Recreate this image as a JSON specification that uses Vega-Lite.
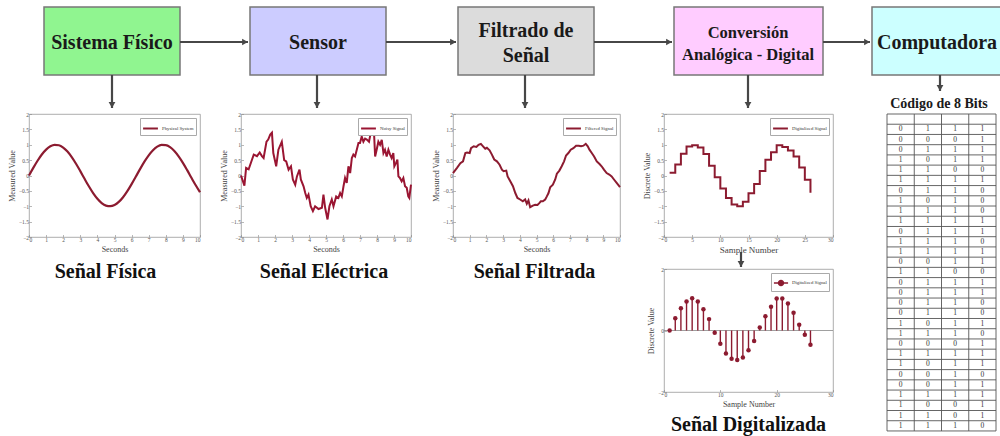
{
  "$schema": "https://vega.github.io/schema/vega-lite/v6.json",
  "background": "white",
  "padding": 0,
  "config": {
    "font": "Liberation Serif",
    "view": {"stroke": null},
    "axis": {"domain": false, "grid": false, "ticks": true, "tickSize": -2.5, "tickColor": "#888", "tickWidth": 0.6, "labelFontSize": 5.5, "labelColor": "#555", "labelPadding": 3, "titleFontSize": 8, "titleFontWeight": "normal", "titleColor": "#444", "titlePadding": 2, "labelFont": "Liberation Serif", "titleFont": "Liberation Serif"},
    "legend": {"orient": "top-right", "offset": 4, "padding": 2, "strokeColor": "#aaa", "fillColor": "white", "labelFontSize": 4.8, "labelColor": "#333", "labelFont": "Liberation Serif", "symbolType": "stroke", "symbolSize": 220, "symbolStrokeWidth": 2, "labelOffset": 3, "rowPadding": 0, "titlePadding": 0},
    "title": {"font": "Liberation Serif", "fontSize": 20, "fontWeight": "bold", "color": "#111", "orient": "bottom", "offset": 9, "frame": "group", "anchor": "middle"},
    "text": {"font": "Liberation Serif", "fontWeight": "bold", "color": "#1a1a1a", "baseline": "middle"}
  },
  "resolve": {"scale": {"color": "independent"}, "legend": {"color": "independent"}},
  "datasets": {
    "boxes": [
      {"stage": "Sistema Físico", "x": 44, "x2": 180},
      {"stage": "Sensor", "x": 250, "x2": 386},
      {"stage": "Filtrado", "x": 458, "x2": 594},
      {"stage": "Conversión", "x": 674, "x2": 823},
      {"stage": "Computadora", "x": 872, "x2": 1012}
    ],
    "labels": [
      {"text": "Sistema Físico", "x": 112, "y": 43, "k": "a"},
      {"text": "Sensor", "x": 318, "y": 43, "k": "a"},
      {"text": "Filtrado de", "x": 526, "y": 31, "k": "a"},
      {"text": "Señal", "x": 526, "y": 56, "k": "a"},
      {"text": "Conversión", "x": 748, "y": 33, "k": "b"},
      {"text": "Analógica - Digital", "x": 748, "y": 55, "k": "b"},
      {"text": "Computadora", "x": 937, "y": 43, "k": "a"},
      {"text": "Código de 8 Bits", "x": 939, "y": 104, "k": "d"}
    ],
    "harrows": [
      {"x": 180, "x2": 248, "y": 42},
      {"x": 386, "x2": 456, "y": 42},
      {"x": 594, "x2": 672, "y": 42},
      {"x": 823, "x2": 870, "y": 42}
    ],
    "varrows": [
      {"x": 112, "y": 75, "y2": 108},
      {"x": 317, "y": 75, "y2": 108},
      {"x": 525, "y": 75, "y2": 108},
      {"x": 748, "y": 75, "y2": 108},
      {"x": 940, "y": 75, "y2": 91},
      {"x": 741, "y": 252, "y2": 267}
    ],
    "d1": [
      {"t": 0, "v": 0}, {"t": 0.25, "v": 0.247}, {"t": 0.5, "v": 0.479}, {"t": 0.75, "v": 0.682}, {"t": 1, "v": 0.841},
      {"t": 1.25, "v": 0.949}, {"t": 1.5, "v": 0.997}, {"t": 1.75, "v": 0.984}, {"t": 2, "v": 0.909}, {"t": 2.25, "v": 0.778},
      {"t": 2.5, "v": 0.598}, {"t": 2.75, "v": 0.382}, {"t": 3, "v": 0.141}, {"t": 3.25, "v": -0.108}, {"t": 3.5, "v": -0.351},
      {"t": 3.75, "v": -0.572}, {"t": 4, "v": -0.757}, {"t": 4.25, "v": -0.895}, {"t": 4.5, "v": -0.978}, {"t": 4.75, "v": -0.999},
      {"t": 5, "v": -0.959}, {"t": 5.25, "v": -0.859}, {"t": 5.5, "v": -0.706}, {"t": 5.75, "v": -0.508}, {"t": 6, "v": -0.279},
      {"t": 6.25, "v": -0.033}, {"t": 6.5, "v": 0.215}, {"t": 6.75, "v": 0.451}, {"t": 7, "v": 0.657}, {"t": 7.25, "v": 0.823},
      {"t": 7.5, "v": 0.938}, {"t": 7.75, "v": 0.994}, {"t": 8, "v": 0.989}, {"t": 8.25, "v": 0.923}, {"t": 8.5, "v": 0.798},
      {"t": 8.75, "v": 0.624}, {"t": 9, "v": 0.412}, {"t": 9.25, "v": 0.174}, {"t": 9.5, "v": -0.075}, {"t": 9.75, "v": -0.319},
      {"t": 10, "v": -0.544}
    ],
    "d2": [
      {"t": 0, "v": 0}, {"t": 0.2, "v": -0.33}, {"t": 0.3, "v": 0.25}, {"t": 0.45, "v": 0.2}, {"t": 0.65, "v": 0.52},
      {"t": 0.75, "v": 0.68}, {"t": 0.94, "v": 0.63}, {"t": 1.1, "v": 0.75}, {"t": 1.23, "v": 0.63}, {"t": 1.33, "v": 0.57},
      {"t": 1.5, "v": 1.1}, {"t": 1.6, "v": 1.17}, {"t": 1.72, "v": 1.33}, {"t": 1.82, "v": 1.39}, {"t": 1.9, "v": 0.73},
      {"t": 2.07, "v": 0.3}, {"t": 2.2, "v": 0.84}, {"t": 2.4, "v": 1.1}, {"t": 2.54, "v": 0.5}, {"t": 2.66, "v": 0.46},
      {"t": 2.8, "v": 0.19}, {"t": 2.94, "v": 0.3}, {"t": 3.05, "v": -0.13}, {"t": 3.19, "v": -0.3}, {"t": 3.29, "v": -0.03},
      {"t": 3.44, "v": 0.19}, {"t": 3.52, "v": -0.13}, {"t": 3.68, "v": -0.35}, {"t": 3.78, "v": -0.57}, {"t": 3.87, "v": -0.73},
      {"t": 3.97, "v": -0.62}, {"t": 4.1, "v": -1.0}, {"t": 4.23, "v": -1.16}, {"t": 4.36, "v": -1.0}, {"t": 4.56, "v": -1.09},
      {"t": 4.76, "v": -1.05}, {"t": 4.85, "v": -0.62}, {"t": 4.95, "v": -1.05}, {"t": 5.09, "v": -1.43}, {"t": 5.2, "v": -1.0},
      {"t": 5.34, "v": -0.78}, {"t": 5.44, "v": -1.0}, {"t": 5.6, "v": -0.68}, {"t": 5.73, "v": -0.73}, {"t": 5.83, "v": -0.57},
      {"t": 5.93, "v": -0.68}, {"t": 6.03, "v": -0.35}, {"t": 6.12, "v": -0.08}, {"t": 6.22, "v": -0.24}, {"t": 6.32, "v": 0.3},
      {"t": 6.42, "v": 0.08}, {"t": 6.52, "v": 0.57}, {"t": 6.61, "v": 0.68}, {"t": 6.71, "v": 0.62}, {"t": 6.81, "v": 0.84},
      {"t": 6.91, "v": 1.06}, {"t": 7.0, "v": 1.06}, {"t": 7.1, "v": 1.27}, {"t": 7.2, "v": 1.1}, {"t": 7.3, "v": 1.2},
      {"t": 7.4, "v": 1.17}, {"t": 7.53, "v": 1.1}, {"t": 7.63, "v": 1.39}, {"t": 7.75, "v": 1.45}, {"t": 7.83, "v": 1.33},
      {"t": 7.89, "v": 0.62}, {"t": 7.98, "v": 0.84}, {"t": 8.08, "v": 1.1}, {"t": 8.18, "v": 1.0}, {"t": 8.28, "v": 1.16},
      {"t": 8.38, "v": 0.73}, {"t": 8.47, "v": 0.84}, {"t": 8.57, "v": 0.62}, {"t": 8.67, "v": 0.84}, {"t": 8.77, "v": 0.68},
      {"t": 8.86, "v": 0.57}, {"t": 8.96, "v": 0.73}, {"t": 9.02, "v": 0.3}, {"t": 9.12, "v": 0.41}, {"t": 9.2, "v": 0.52},
      {"t": 9.26, "v": -0.03}, {"t": 9.35, "v": -0.08}, {"t": 9.45, "v": -0.19}, {"t": 9.55, "v": -0.08}, {"t": 9.65, "v": -0.35},
      {"t": 9.75, "v": -0.4}, {"t": 9.84, "v": -0.68}, {"t": 9.9, "v": -0.73}, {"t": 10, "v": -0.3}
    ],
    "d3": [
      {"t": 0, "v": 0.08}, {"t": 0.24, "v": 0.25}, {"t": 0.44, "v": 0.4}, {"t": 0.6, "v": 0.46}, {"t": 0.74, "v": 0.73},
      {"t": 0.84, "v": 0.75}, {"t": 1.0, "v": 0.73}, {"t": 1.08, "v": 0.89}, {"t": 1.24, "v": 0.95}, {"t": 1.4, "v": 0.93},
      {"t": 1.53, "v": 1.0}, {"t": 1.67, "v": 1.03}, {"t": 1.8, "v": 0.95}, {"t": 1.93, "v": 0.87}, {"t": 2.03, "v": 0.9},
      {"t": 2.19, "v": 0.82}, {"t": 2.33, "v": 0.68}, {"t": 2.47, "v": 0.52}, {"t": 2.63, "v": 0.46}, {"t": 2.79, "v": 0.35},
      {"t": 2.93, "v": 0.19}, {"t": 3.03, "v": 0.14}, {"t": 3.19, "v": 0.16}, {"t": 3.27, "v": -0.03}, {"t": 3.43, "v": -0.19},
      {"t": 3.59, "v": -0.35}, {"t": 3.73, "v": -0.57}, {"t": 3.86, "v": -0.73}, {"t": 4.02, "v": -0.78}, {"t": 4.18, "v": -0.84},
      {"t": 4.32, "v": -0.78}, {"t": 4.42, "v": -0.92}, {"t": 4.52, "v": -0.81}, {"t": 4.62, "v": -1.03}, {"t": 4.78, "v": -0.98},
      {"t": 4.92, "v": -0.95}, {"t": 5.06, "v": -0.96}, {"t": 5.18, "v": -0.89}, {"t": 5.26, "v": -0.84}, {"t": 5.38, "v": -0.84},
      {"t": 5.52, "v": -0.78}, {"t": 5.62, "v": -0.68}, {"t": 5.72, "v": -0.57}, {"t": 5.82, "v": -0.38}, {"t": 5.98, "v": -0.3},
      {"t": 6.12, "v": -0.13}, {"t": 6.22, "v": 0.06}, {"t": 6.37, "v": 0.16}, {"t": 6.51, "v": 0.3}, {"t": 6.65, "v": 0.46},
      {"t": 6.77, "v": 0.65}, {"t": 6.91, "v": 0.73}, {"t": 7.05, "v": 0.84}, {"t": 7.21, "v": 0.89}, {"t": 7.37, "v": 0.97},
      {"t": 7.53, "v": 0.97}, {"t": 7.67, "v": 0.95}, {"t": 7.81, "v": 0.97}, {"t": 7.95, "v": 1.03}, {"t": 8.07, "v": 0.95},
      {"t": 8.17, "v": 0.84}, {"t": 8.31, "v": 0.73}, {"t": 8.45, "v": 0.62}, {"t": 8.61, "v": 0.46}, {"t": 8.76, "v": 0.38},
      {"t": 8.9, "v": 0.3}, {"t": 9.04, "v": 0.19}, {"t": 9.2, "v": 0.08}, {"t": 9.36, "v": 0.03}, {"t": 9.5, "v": -0.03},
      {"t": 9.64, "v": -0.13}, {"t": 9.8, "v": -0.24}, {"t": 10, "v": -0.38}
    ],
    "d4": [
      {"n": 1, "v": 0.09}, {"n": 2, "v": 0.36}, {"n": 3, "v": 0.71}, {"n": 4, "v": 0.94}, {"n": 5, "v": 0.98},
      {"n": 6, "v": 0.91}, {"n": 7, "v": 0.7}, {"n": 8, "v": 0.32}, {"n": 9, "v": -0.06}, {"n": 10, "v": -0.42},
      {"n": 11, "v": -0.73}, {"n": 12, "v": -0.94}, {"n": 13, "v": -1.0}, {"n": 14, "v": -0.85}, {"n": 15, "v": -0.58},
      {"n": 16, "v": -0.28}, {"n": 17, "v": 0.15}, {"n": 18, "v": 0.51}, {"n": 19, "v": 0.76}, {"n": 20, "v": 0.98},
      {"n": 21, "v": 0.93}, {"n": 22, "v": 0.81}, {"n": 23, "v": 0.62}, {"n": 24, "v": 0.26}, {"n": 25, "v": -0.14},
      {"n": 26, "v": -0.56}
    ],
    "d5": [
      {"n": 1, "v": 0.0}, {"n": 2, "v": 0.4}, {"n": 3, "v": 0.72}, {"n": 4, "v": 0.94}, {"n": 5, "v": 1.05},
      {"n": 6, "v": 0.94}, {"n": 7, "v": 0.69}, {"n": 8, "v": 0.37}, {"n": 9, "v": -0.07}, {"n": 10, "v": -0.43},
      {"n": 11, "v": -0.75}, {"n": 12, "v": -0.92}, {"n": 13, "v": -0.96}, {"n": 14, "v": -0.88}, {"n": 15, "v": -0.64},
      {"n": 16, "v": -0.34}, {"n": 17, "v": 0.1}, {"n": 18, "v": 0.46}, {"n": 19, "v": 0.77}, {"n": 20, "v": 1.04},
      {"n": 21, "v": 1.04}, {"n": 22, "v": 0.88}, {"n": 23, "v": 0.58}, {"n": 24, "v": 0.19}, {"n": 25, "v": -0.14},
      {"n": 26, "v": -0.46}
    ],
    "hl": [
      {"r": -0.5}, {"r": 0.5}, {"r": 1.5}, {"r": 2.5}, {"r": 3.5}, {"r": 4.5}, {"r": 5.5}, {"r": 6.5}, {"r": 7.5}, {"r": 8.5},
      {"r": 9.5}, {"r": 10.5}, {"r": 11.5}, {"r": 12.5}, {"r": 13.5}, {"r": 14.5}, {"r": 15.5}, {"r": 16.5}, {"r": 17.5}, {"r": 18.5},
      {"r": 19.5}, {"r": 20.5}, {"r": 21.5}, {"r": 22.5}, {"r": 23.5}, {"r": 24.5}, {"r": 25.5}, {"r": 26.5}, {"r": 27.5}, {"r": 28.5},
      {"r": 29.5}, {"r": 30.5}
    ],
    "vl": [{"c": 0}, {"c": 1}, {"c": 2}, {"c": 3}, {"c": 4}],
    "bits": [
      {"r": 1, "b1": 0, "b2": 1, "b3": 1, "b4": 1},
      {"r": 2, "b1": 0, "b2": 0, "b3": 0, "b4": 1},
      {"r": 3, "b1": 0, "b2": 1, "b3": 1, "b4": 1},
      {"r": 4, "b1": 1, "b2": 0, "b3": 1, "b4": 1},
      {"r": 5, "b1": 1, "b2": 1, "b3": 0, "b4": 0},
      {"r": 6, "b1": 1, "b2": 1, "b3": 1, "b4": 1},
      {"r": 7, "b1": 0, "b2": 1, "b3": 1, "b4": 0},
      {"r": 8, "b1": 1, "b2": 0, "b3": 1, "b4": 0},
      {"r": 9, "b1": 1, "b2": 1, "b3": 1, "b4": 0},
      {"r": 10, "b1": 1, "b2": 1, "b3": 1, "b4": 1},
      {"r": 11, "b1": 0, "b2": 1, "b3": 1, "b4": 1},
      {"r": 12, "b1": 1, "b2": 1, "b3": 1, "b4": 0},
      {"r": 13, "b1": 1, "b2": 1, "b3": 1, "b4": 1},
      {"r": 14, "b1": 0, "b2": 0, "b3": 1, "b4": 1},
      {"r": 15, "b1": 1, "b2": 1, "b3": 0, "b4": 0},
      {"r": 16, "b1": 0, "b2": 1, "b3": 1, "b4": 1},
      {"r": 17, "b1": 0, "b2": 1, "b3": 1, "b4": 1},
      {"r": 18, "b1": 0, "b2": 1, "b3": 1, "b4": 0},
      {"r": 19, "b1": 0, "b2": 1, "b3": 1, "b4": 0},
      {"r": 20, "b1": 1, "b2": 0, "b3": 1, "b4": 1},
      {"r": 21, "b1": 1, "b2": 1, "b3": 1, "b4": 0},
      {"r": 22, "b1": 0, "b2": 0, "b3": 0, "b4": 1},
      {"r": 23, "b1": 1, "b2": 1, "b3": 1, "b4": 1},
      {"r": 24, "b1": 1, "b2": 0, "b3": 1, "b4": 1},
      {"r": 25, "b1": 0, "b2": 0, "b3": 1, "b4": 0},
      {"r": 26, "b1": 0, "b2": 0, "b3": 1, "b4": 1},
      {"r": 27, "b1": 1, "b2": 1, "b3": 1, "b4": 1},
      {"r": 28, "b1": 1, "b2": 0, "b3": 0, "b4": 1},
      {"r": 29, "b1": 1, "b2": 1, "b3": 0, "b4": 1},
      {"r": 30, "b1": 1, "b2": 1, "b3": 1, "b4": 0}
    ]
  },
  "columns": 6,
  "spacing": 0,
  "bounds": "flush",
  "concat": [
    {"width": 29, "height": 114, "data": {"values": []}, "mark": "point"},
    {
      "width": 212, "height": 114,
      "layer": [
        {"data": {"name": "boxes"}, "mark": {"type": "rect", "stroke": "#777", "strokeWidth": 1.5, "clip": true},
         "encoding": {"x": {"field": "x", "type": "quantitative", "scale": {"domain": [29, 241], "nice": false, "zero": false}, "axis": null}, "x2": {"field": "x2"},
           "y": {"datum": 7, "type": "quantitative", "scale": {"domain": [0, 114], "reverse": true, "nice": false, "zero": false}, "axis": null}, "y2": {"datum": 75},
           "fill": {"field": "stage", "type": "nominal", "scale": {"domain": ["Sistema Físico", "Sensor", "Filtrado", "Conversión", "Computadora"], "range": ["#90f590", "#ccccff", "#dcdcdc", "#ffccff", "#ccffff"]}, "legend": null}}},
        {"data": {"name": "harrows"}, "mark": {"type": "rule", "color": "#474747", "strokeWidth": 2.2, "clip": true},
         "encoding": {"x": {"field": "x", "type": "quantitative"}, "x2": {"field": "x2"}, "y": {"field": "y", "type": "quantitative"}}},
        {"data": {"name": "harrows"}, "mark": {"type": "point", "shape": "triangle-right", "filled": true, "color": "#474747", "opacity": 1, "size": 45, "xOffset": -3, "clip": true},
         "encoding": {"x": {"field": "x2", "type": "quantitative"}, "y": {"field": "y", "type": "quantitative"}}},
        {"data": {"name": "varrows"}, "mark": {"type": "rule", "color": "#474747", "strokeWidth": 2.2, "clip": true},
         "encoding": {"x": {"field": "x", "type": "quantitative"}, "y": {"field": "y", "type": "quantitative"}, "y2": {"field": "y2"}}},
        {"data": {"name": "varrows"}, "mark": {"type": "point", "shape": "triangle-down", "filled": true, "color": "#474747", "opacity": 1, "size": 45, "yOffset": -3, "clip": true},
         "encoding": {"x": {"field": "x", "type": "quantitative"}, "y": {"field": "y2", "type": "quantitative"}}},
        {"data": {"name": "labels"}, "transform": [{"filter": "datum.k == 'a'"}], "mark": {"type": "text", "fontSize": 20, "clip": true},
         "encoding": {"x": {"field": "x", "type": "quantitative"}, "y": {"field": "y", "type": "quantitative"}, "text": {"field": "text"}}},
        {"data": {"name": "labels"}, "transform": [{"filter": "datum.k == 'b'"}], "mark": {"type": "text", "fontSize": 16.5, "clip": true},
         "encoding": {"x": {"field": "x", "type": "quantitative"}, "y": {"field": "y", "type": "quantitative"}, "text": {"field": "text"}}},
        {"data": {"name": "labels"}, "transform": [{"filter": "datum.k == 'd'"}], "mark": {"type": "text", "fontSize": 14, "clip": true},
         "encoding": {"x": {"field": "x", "type": "quantitative"}, "y": {"field": "y", "type": "quantitative"}, "text": {"field": "text"}}}
      ]
    },
    {
      "width": 212, "height": 114,
      "layer": [
        {"data": {"name": "boxes"}, "mark": {"type": "rect", "stroke": "#777", "strokeWidth": 1.5, "clip": true},
         "encoding": {"x": {"field": "x", "type": "quantitative", "scale": {"domain": [241, 453], "nice": false, "zero": false}, "axis": null}, "x2": {"field": "x2"},
           "y": {"datum": 7, "type": "quantitative", "scale": {"domain": [0, 114], "reverse": true, "nice": false, "zero": false}, "axis": null}, "y2": {"datum": 75},
           "fill": {"field": "stage", "type": "nominal", "scale": {"domain": ["Sistema Físico", "Sensor", "Filtrado", "Conversión", "Computadora"], "range": ["#90f590", "#ccccff", "#dcdcdc", "#ffccff", "#ccffff"]}, "legend": null}}},
        {"data": {"name": "harrows"}, "mark": {"type": "rule", "color": "#474747", "strokeWidth": 2.2, "clip": true},
         "encoding": {"x": {"field": "x", "type": "quantitative"}, "x2": {"field": "x2"}, "y": {"field": "y", "type": "quantitative"}}},
        {"data": {"name": "harrows"}, "mark": {"type": "point", "shape": "triangle-right", "filled": true, "color": "#474747", "opacity": 1, "size": 45, "xOffset": -3, "clip": true},
         "encoding": {"x": {"field": "x2", "type": "quantitative"}, "y": {"field": "y", "type": "quantitative"}}},
        {"data": {"name": "varrows"}, "mark": {"type": "rule", "color": "#474747", "strokeWidth": 2.2, "clip": true},
         "encoding": {"x": {"field": "x", "type": "quantitative"}, "y": {"field": "y", "type": "quantitative"}, "y2": {"field": "y2"}}},
        {"data": {"name": "varrows"}, "mark": {"type": "point", "shape": "triangle-down", "filled": true, "color": "#474747", "opacity": 1, "size": 45, "yOffset": -3, "clip": true},
         "encoding": {"x": {"field": "x", "type": "quantitative"}, "y": {"field": "y2", "type": "quantitative"}}},
        {"data": {"name": "labels"}, "transform": [{"filter": "datum.k == 'a'"}], "mark": {"type": "text", "fontSize": 20, "clip": true},
         "encoding": {"x": {"field": "x", "type": "quantitative"}, "y": {"field": "y", "type": "quantitative"}, "text": {"field": "text"}}},
        {"data": {"name": "labels"}, "transform": [{"filter": "datum.k == 'b'"}], "mark": {"type": "text", "fontSize": 16.5, "clip": true},
         "encoding": {"x": {"field": "x", "type": "quantitative"}, "y": {"field": "y", "type": "quantitative"}, "text": {"field": "text"}}},
        {"data": {"name": "labels"}, "transform": [{"filter": "datum.k == 'd'"}], "mark": {"type": "text", "fontSize": 14, "clip": true},
         "encoding": {"x": {"field": "x", "type": "quantitative"}, "y": {"field": "y", "type": "quantitative"}, "text": {"field": "text"}}}
      ]
    },
    {
      "width": 211, "height": 114,
      "layer": [
        {"data": {"name": "boxes"}, "mark": {"type": "rect", "stroke": "#777", "strokeWidth": 1.5, "clip": true},
         "encoding": {"x": {"field": "x", "type": "quantitative", "scale": {"domain": [453, 664], "nice": false, "zero": false}, "axis": null}, "x2": {"field": "x2"},
           "y": {"datum": 7, "type": "quantitative", "scale": {"domain": [0, 114], "reverse": true, "nice": false, "zero": false}, "axis": null}, "y2": {"datum": 75},
           "fill": {"field": "stage", "type": "nominal", "scale": {"domain": ["Sistema Físico", "Sensor", "Filtrado", "Conversión", "Computadora"], "range": ["#90f590", "#ccccff", "#dcdcdc", "#ffccff", "#ccffff"]}, "legend": null}}},
        {"data": {"name": "harrows"}, "mark": {"type": "rule", "color": "#474747", "strokeWidth": 2.2, "clip": true},
         "encoding": {"x": {"field": "x", "type": "quantitative"}, "x2": {"field": "x2"}, "y": {"field": "y", "type": "quantitative"}}},
        {"data": {"name": "harrows"}, "mark": {"type": "point", "shape": "triangle-right", "filled": true, "color": "#474747", "opacity": 1, "size": 45, "xOffset": -3, "clip": true},
         "encoding": {"x": {"field": "x2", "type": "quantitative"}, "y": {"field": "y", "type": "quantitative"}}},
        {"data": {"name": "varrows"}, "mark": {"type": "rule", "color": "#474747", "strokeWidth": 2.2, "clip": true},
         "encoding": {"x": {"field": "x", "type": "quantitative"}, "y": {"field": "y", "type": "quantitative"}, "y2": {"field": "y2"}}},
        {"data": {"name": "varrows"}, "mark": {"type": "point", "shape": "triangle-down", "filled": true, "color": "#474747", "opacity": 1, "size": 45, "yOffset": -3, "clip": true},
         "encoding": {"x": {"field": "x", "type": "quantitative"}, "y": {"field": "y2", "type": "quantitative"}}},
        {"data": {"name": "labels"}, "transform": [{"filter": "datum.k == 'a'"}], "mark": {"type": "text", "fontSize": 20, "clip": true},
         "encoding": {"x": {"field": "x", "type": "quantitative"}, "y": {"field": "y", "type": "quantitative"}, "text": {"field": "text"}}},
        {"data": {"name": "labels"}, "transform": [{"filter": "datum.k == 'b'"}], "mark": {"type": "text", "fontSize": 16.5, "clip": true},
         "encoding": {"x": {"field": "x", "type": "quantitative"}, "y": {"field": "y", "type": "quantitative"}, "text": {"field": "text"}}},
        {"data": {"name": "labels"}, "transform": [{"filter": "datum.k == 'd'"}], "mark": {"type": "text", "fontSize": 14, "clip": true},
         "encoding": {"x": {"field": "x", "type": "quantitative"}, "y": {"field": "y", "type": "quantitative"}, "text": {"field": "text"}}}
      ]
    },
    {
      "width": 223, "height": 114,
      "layer": [
        {"data": {"name": "boxes"}, "mark": {"type": "rect", "stroke": "#777", "strokeWidth": 1.5, "clip": true},
         "encoding": {"x": {"field": "x", "type": "quantitative", "scale": {"domain": [664, 887], "nice": false, "zero": false}, "axis": null}, "x2": {"field": "x2"},
           "y": {"datum": 7, "type": "quantitative", "scale": {"domain": [0, 114], "reverse": true, "nice": false, "zero": false}, "axis": null}, "y2": {"datum": 75},
           "fill": {"field": "stage", "type": "nominal", "scale": {"domain": ["Sistema Físico", "Sensor", "Filtrado", "Conversión", "Computadora"], "range": ["#90f590", "#ccccff", "#dcdcdc", "#ffccff", "#ccffff"]}, "legend": null}}},
        {"data": {"name": "harrows"}, "mark": {"type": "rule", "color": "#474747", "strokeWidth": 2.2, "clip": true},
         "encoding": {"x": {"field": "x", "type": "quantitative"}, "x2": {"field": "x2"}, "y": {"field": "y", "type": "quantitative"}}},
        {"data": {"name": "harrows"}, "mark": {"type": "point", "shape": "triangle-right", "filled": true, "color": "#474747", "opacity": 1, "size": 45, "xOffset": -3, "clip": true},
         "encoding": {"x": {"field": "x2", "type": "quantitative"}, "y": {"field": "y", "type": "quantitative"}}},
        {"data": {"name": "varrows"}, "mark": {"type": "rule", "color": "#474747", "strokeWidth": 2.2, "clip": true},
         "encoding": {"x": {"field": "x", "type": "quantitative"}, "y": {"field": "y", "type": "quantitative"}, "y2": {"field": "y2"}}},
        {"data": {"name": "varrows"}, "mark": {"type": "point", "shape": "triangle-down", "filled": true, "color": "#474747", "opacity": 1, "size": 45, "yOffset": -3, "clip": true},
         "encoding": {"x": {"field": "x", "type": "quantitative"}, "y": {"field": "y2", "type": "quantitative"}}},
        {"data": {"name": "labels"}, "transform": [{"filter": "datum.k == 'a'"}], "mark": {"type": "text", "fontSize": 20, "clip": true},
         "encoding": {"x": {"field": "x", "type": "quantitative"}, "y": {"field": "y", "type": "quantitative"}, "text": {"field": "text"}}},
        {"data": {"name": "labels"}, "transform": [{"filter": "datum.k == 'b'"}], "mark": {"type": "text", "fontSize": 16.5, "clip": true},
         "encoding": {"x": {"field": "x", "type": "quantitative"}, "y": {"field": "y", "type": "quantitative"}, "text": {"field": "text"}}},
        {"data": {"name": "labels"}, "transform": [{"filter": "datum.k == 'd'"}], "mark": {"type": "text", "fontSize": 14, "clip": true},
         "encoding": {"x": {"field": "x", "type": "quantitative"}, "y": {"field": "y", "type": "quantitative"}, "text": {"field": "text"}}}
      ]
    },
    {
      "width": 113, "height": 114,
      "layer": [
        {"data": {"name": "boxes"}, "mark": {"type": "rect", "stroke": "#777", "strokeWidth": 1.5, "clip": true},
         "encoding": {"x": {"field": "x", "type": "quantitative", "scale": {"domain": [887, 1000], "nice": false, "zero": false}, "axis": null}, "x2": {"field": "x2"},
           "y": {"datum": 7, "type": "quantitative", "scale": {"domain": [0, 114], "reverse": true, "nice": false, "zero": false}, "axis": null}, "y2": {"datum": 75},
           "fill": {"field": "stage", "type": "nominal", "scale": {"domain": ["Sistema Físico", "Sensor", "Filtrado", "Conversión", "Computadora"], "range": ["#90f590", "#ccccff", "#dcdcdc", "#ffccff", "#ccffff"]}, "legend": null}}},
        {"data": {"name": "harrows"}, "mark": {"type": "rule", "color": "#474747", "strokeWidth": 2.2, "clip": true},
         "encoding": {"x": {"field": "x", "type": "quantitative"}, "x2": {"field": "x2"}, "y": {"field": "y", "type": "quantitative"}}},
        {"data": {"name": "harrows"}, "mark": {"type": "point", "shape": "triangle-right", "filled": true, "color": "#474747", "opacity": 1, "size": 45, "xOffset": -3, "clip": true},
         "encoding": {"x": {"field": "x2", "type": "quantitative"}, "y": {"field": "y", "type": "quantitative"}}},
        {"data": {"name": "varrows"}, "mark": {"type": "rule", "color": "#474747", "strokeWidth": 2.2, "clip": true},
         "encoding": {"x": {"field": "x", "type": "quantitative"}, "y": {"field": "y", "type": "quantitative"}, "y2": {"field": "y2"}}},
        {"data": {"name": "varrows"}, "mark": {"type": "point", "shape": "triangle-down", "filled": true, "color": "#474747", "opacity": 1, "size": 45, "yOffset": -3, "clip": true},
         "encoding": {"x": {"field": "x", "type": "quantitative"}, "y": {"field": "y2", "type": "quantitative"}}},
        {"data": {"name": "labels"}, "transform": [{"filter": "datum.k == 'a'"}], "mark": {"type": "text", "fontSize": 20, "clip": true},
         "encoding": {"x": {"field": "x", "type": "quantitative"}, "y": {"field": "y", "type": "quantitative"}, "text": {"field": "text"}}},
        {"data": {"name": "labels"}, "transform": [{"filter": "datum.k == 'b'"}], "mark": {"type": "text", "fontSize": 16.5, "clip": true},
         "encoding": {"x": {"field": "x", "type": "quantitative"}, "y": {"field": "y", "type": "quantitative"}, "text": {"field": "text"}}},
        {"data": {"name": "labels"}, "transform": [{"filter": "datum.k == 'd'"}], "mark": {"type": "text", "fontSize": 14, "clip": true},
         "encoding": {"x": {"field": "x", "type": "quantitative"}, "y": {"field": "y", "type": "quantitative"}, "text": {"field": "text"}}}
      ]
    },

    {"width": 1, "height": 1, "data": {"values": []}, "mark": "point"},
    {
      "width": 171, "height": 123,
      "view": {"stroke": "#999", "strokeWidth": 0.8},
      "data": {"name": "d1"},
      "title": {"text": "Señal Física", "dx": -9},
      "mark": {"type": "line", "strokeWidth": 2.2, "interpolate": "monotone"},
      "encoding": {
        "x": {"field": "t", "type": "quantitative", "scale": {"domain": [0, 10], "nice": false}, "axis": {"title": "Seconds", "values": [0, 1, 2, 3, 4, 5, 6, 7, 8, 9, 10]}},
        "y": {"field": "v", "type": "quantitative", "scale": {"domain": [-2, 2], "nice": false}, "axis": {"title": "Measured Value", "values": [-2, -1.5, -1, -0.5, 0, 0.5, 1, 1.5, 2], "format": "~g"}},
        "color": {"datum": "Physical System", "scale": {"range": ["#8c1b30"]}, "legend": {"title": null}}
      }
    },
    {
      "width": 170, "height": 123,
      "view": {"stroke": "#999", "strokeWidth": 0.8},
      "data": {"name": "d2"},
      "title": {"text": "Señal Eléctrica", "dx": -2},
      "mark": {"type": "line", "strokeWidth": 2, "interpolate": "linear"},
      "encoding": {
        "x": {"field": "t", "type": "quantitative", "scale": {"domain": [0, 10], "nice": false}, "axis": {"title": "Seconds", "values": [0, 1, 2, 3, 4, 5, 6, 7, 8, 9, 10]}},
        "y": {"field": "v", "type": "quantitative", "scale": {"domain": [-2, 2], "nice": false}, "axis": {"title": "Measured Value", "values": [-2, -1.5, -1, -0.5, 0, 0.5, 1, 1.5, 2], "format": "~g"}},
        "color": {"datum": "Noisy Signal", "scale": {"range": ["#9a1532"]}, "legend": {"title": null}}
      }
    },
    {
      "width": 167, "height": 123,
      "view": {"stroke": "#999", "strokeWidth": 0.8},
      "data": {"name": "d3"},
      "title": {"text": "Señal Filtrada", "dx": -2},
      "mark": {"type": "line", "strokeWidth": 2, "interpolate": "linear"},
      "encoding": {
        "x": {"field": "t", "type": "quantitative", "scale": {"domain": [0, 10], "nice": false}, "axis": {"title": "Seconds", "values": [0, 1, 2, 3, 4, 5, 6, 7, 8, 9, 10]}},
        "y": {"field": "v", "type": "quantitative", "scale": {"domain": [-2, 2], "nice": false}, "axis": {"title": "Measured Value", "values": [-2, -1.5, -1, -0.5, 0, 0.5, 1, 1.5, 2], "format": "~g"}},
        "color": {"datum": "Filtered Signal", "scale": {"range": ["#8c1b30"]}, "legend": {"title": null}}
      }
    },
    {
      "width": 169, "height": 123,
      "view": {"stroke": "#999", "strokeWidth": 0.8},
      "data": {"name": "d4"},
      "mark": {"type": "line", "strokeWidth": 2, "interpolate": "step-after"},
      "encoding": {
        "x": {"field": "n", "type": "quantitative", "scale": {"domain": [0, 30], "nice": false}, "axis": {"title": "Sample Number", "values": [0, 5, 10, 15, 20, 25, 30], "titleFontSize": 9}},
        "y": {"field": "v", "type": "quantitative", "scale": {"domain": [-2, 2], "nice": false}, "axis": {"title": "Discrete Value", "values": [-2, -1.5, -1, -0.5, 0, 0.5, 1, 1.5, 2], "format": "~g"}},
        "color": {"datum": "Digitalized Signal", "scale": {"range": ["#8c1b30"]}, "legend": {"title": null}}
      }
    },
    {
      "width": 109, "height": 123,
      "layer": [
        {"data": {"name": "hl"}, "mark": {"type": "rule", "color": "#555", "strokeWidth": 0.9},
         "encoding": {"x": {"datum": 0, "type": "quantitative", "scale": {"domain": [0, 4], "nice": false, "zero": false}, "axis": null}, "x2": {"datum": 4},
           "y": {"field": "r", "type": "quantitative", "scale": {"domain": [-0.5, 11.53], "reverse": true, "nice": false, "zero": false}, "axis": null}}},
        {"data": {"name": "vl"}, "mark": {"type": "rule", "color": "#555", "strokeWidth": 0.9},
         "encoding": {"x": {"field": "c", "type": "quantitative", "scale": {"domain": [0, 4], "nice": false, "zero": false}, "axis": null}, "y": {"datum": -0.5, "type": "quantitative"}, "y2": {"datum": 30.5}}},
        {"data": {"name": "bits"}, "transform": [{"fold": ["b1", "b2", "b3", "b4"], "as": ["col", "bit"]}],
         "mark": {"type": "text", "fontSize": 7.5, "color": "#333", "fontWeight": "normal"},
         "encoding": {"x": {"field": "col", "type": "ordinal", "scale": {"type": "point", "domain": ["b1", "b2", "b3", "b4"], "padding": 0.5}, "axis": null},
           "y": {"field": "r", "type": "quantitative"}, "text": {"field": "bit"}}}
      ],
      "resolve": {"scale": {"x": "independent"}}
    },

    {"width": 1, "height": 1, "data": {"values": []}, "mark": "point"},
    {"width": 1, "height": 1, "data": {"values": []}, "mark": "point"},
    {"width": 1, "height": 1, "data": {"values": []}, "mark": "point"},
    {"width": 1, "height": 1, "data": {"values": []}, "mark": "point"},
    {
      "width": 169, "height": 32,
      "layer": [
        {"data": {"name": "varrows"}, "mark": {"type": "rule", "color": "#474747", "strokeWidth": 2.2, "clip": true},
         "encoding": {"x": {"field": "x", "type": "quantitative", "scale": {"domain": [664, 833], "nice": false, "zero": false}, "axis": null},
           "y": {"field": "y", "type": "quantitative", "scale": {"domain": [237, 269], "reverse": true, "nice": false, "zero": false}, "axis": null}, "y2": {"field": "y2"}}},
        {"data": {"name": "varrows"}, "mark": {"type": "point", "shape": "triangle-down", "filled": true, "color": "#474747", "opacity": 1, "size": 45, "yOffset": -3, "clip": true},
         "encoding": {"x": {"field": "x", "type": "quantitative"}, "y": {"field": "y2", "type": "quantitative"}}}
      ]
    },
    {"width": 1, "height": 1, "data": {"values": []}, "mark": "point"},

    {"width": 1, "height": 1, "data": {"values": []}, "mark": "point"},
    {"width": 1, "height": 1, "data": {"values": []}, "mark": "point"},
    {"width": 1, "height": 1, "data": {"values": []}, "mark": "point"},
    {"width": 1, "height": 1, "data": {"values": []}, "mark": "point"},
    {
      "width": 169, "height": 123,
      "view": {"stroke": "#999", "strokeWidth": 0.8},
      "title": {"text": "Señal Digitalizada", "offset": 7},
      "layer": [
        {"data": {"values": [{"z": 0}]}, "mark": {"type": "rule", "color": "#888", "strokeWidth": 0.8},
         "encoding": {"y": {"field": "z", "type": "quantitative", "scale": {"domain": [-2, 2], "nice": false}, "axis": {"title": "Discrete Value", "values": [-2, -1.5, -1, -0.5, 0, 0.5, 1, 1.5, 2], "format": "~g"}}}},
        {"data": {"name": "d5"}, "mark": {"type": "rule", "color": "#8c1b30", "strokeWidth": 1.4},
         "encoding": {"x": {"field": "n", "type": "quantitative", "scale": {"domain": [0, 30], "nice": false}, "axis": {"title": "Sample Number", "values": [0, 5, 10, 15, 20, 25, 30]}},
           "y": {"field": "v", "type": "quantitative"}, "y2": {"datum": 0}}},
        {"data": {"name": "d5"}, "mark": {"type": "point", "filled": true, "opacity": 1, "size": 20},
         "encoding": {"x": {"field": "n", "type": "quantitative"}, "y": {"field": "v", "type": "quantitative"},
           "color": {"datum": "Digitalized Signal", "scale": {"range": ["#8c1b30"]}, "legend": {"title": null, "symbolType": "M-1,0H1M0.35,0A0.35,0.35,0,1,1,-0.35,0A0.35,0.35,0,1,1,0.35,0Z", "symbolStrokeColor": "#8c1b30", "symbolStrokeWidth": 1.5, "symbolSize": 200}}}}
      ]
    }
  ]
}
